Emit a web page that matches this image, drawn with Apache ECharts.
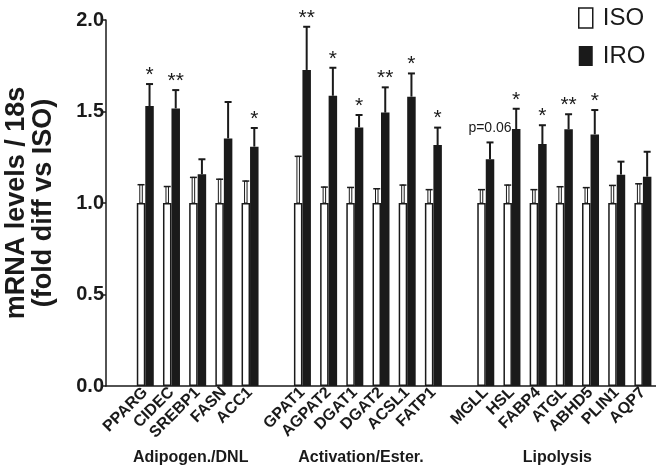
<!DOCTYPE html>
<html><head><meta charset="utf-8">
<script src="https://cdn.jsdelivr.net/npm/echarts@6/dist/echarts.min.js"></script>
<style>html,body{margin:0;padding:0;background:#fff}#c{width:656px;height:470px}</style>
</head><body><div id="c"></div>
<script>
// ---- data ----
const categories = ['', 'PPARG','CIDEC','SREBP1','FASN','ACC1', '', 'GPAT1','AGPAT2','DGAT1','DGAT2','ACSL1','FATP1', '', 'MGLL','HSL','FABP4','ATGL','ABHD5','PLIN1','AQP7'];
const isoMean = [null, 1,1,1,1,1, null, 1,1,1,1,1,1, null, 1,1,1,1,1,1,1];
const isoErr  = [null, 0.10,0.09,0.14,0.13,0.12, null, 0.255,0.087,0.085,0.078,0.098,0.073, null, 0.073,0.098,0.073,0.089,0.084,0.096,0.105];
const iroMean = [null, 1.530,1.517,1.157,1.353,1.308, null, 1.727,1.586,1.413,1.494,1.581,1.317, null, 1.239,1.404,1.322,1.403,1.375,1.155,1.144];
const iroErr  = [null, 0.120,0.100,0.082,0.199,0.102, null, 0.236,0.153,0.068,0.138,0.127,0.095, null, 0.092,0.111,0.103,0.082,0.133,0.071,0.136];
const sigLabels = [null, '*','**','','','*', null, '**','*','*','**','*','*', null, 'p=0.06','*','*','**','*','',''];
const groupNames = ['Adipogen./DNL','Activation/Ester.','Lipolysis'];
const groupStart = [1, 7, 14];
const groupEnd   = [5, 12, 20];
const yTicks = [0, 0.5, 1.0, 1.5, 2.0];

// ---- chart ----
const FONT = '"Liberation Sans", Arial, Helvetica, sans-serif';
const INK = '#1a1a1a';
const BW = 8.5;
const chart = echarts.init(document.getElementById('c'), null, {renderer: 'canvas'});

const errData = categories.map((c, i) => c ? [i, iroMean[i] + iroErr[i]] : null).filter(Boolean);

function renderErr(params, api) {
  const i = api.value(0);
  const cx = api.coord([i, 0])[0];
  const isoX = cx - BW / 2, iroX = cx + BW / 2;
  const isoTop = api.coord([i, isoMean[i]])[1];
  const isoCap = api.coord([i, isoMean[i] + isoErr[i]])[1];
  const iroTop = api.coord([i, iroMean[i]])[1];
  const iroCap = api.coord([i, iroMean[i] + iroErr[i]])[1];
  const children = [
    {type: 'rect', shape: {x: isoX - 1.25, y: isoCap, width: 2.5, height: isoTop - isoCap},
     style: {fill: '#fff', stroke: INK, lineWidth: 1}},
    {type: 'line', shape: {x1: isoX - 3.5, y1: isoCap, x2: isoX + 3.5, y2: isoCap},
     style: {stroke: INK, lineWidth: 1.5}},
    {type: 'line', shape: {x1: iroX, y1: iroTop, x2: iroX, y2: iroCap},
     style: {stroke: INK, lineWidth: 2}},
    {type: 'line', shape: {x1: iroX - 3.5, y1: iroCap, x2: iroX + 3.5, y2: iroCap},
     style: {stroke: INK, lineWidth: 2}}
  ];
  const s = sigLabels[i];
  if (s) {
    const isP = s.indexOf('p') === 0;
    children.push({type: 'text', x: iroX, y: iroCap - (isP ? 14 : 9),
      style: {text: s, fill: INK, font: (isP ? '14px ' : '21px ') + FONT,
              align: 'center', verticalAlign: 'middle'}});
  }
  return {type: 'group', children};
}

chart.setOption({
  animation: false,
  backgroundColor: '#fff',
  grid: {left: 106, right: 0, top: 20, bottom: 84, containLabel: false, outerBoundsMode: 'none'},
  legend: {
    orient: 'vertical', left: 578, top: 6, padding: 0, itemWidth: 14, itemHeight: 20, itemGap: 14,
    textStyle: {fontFamily: FONT, fontSize: 24, color: INK, padding: [0, 0, 0, 5]},
    data: [
      {name: 'ISO', icon: 'rect', itemStyle: {color: '#fff', borderColor: INK, borderWidth: 1.5}},
      {name: 'IRO', icon: 'rect', itemStyle: {color: INK}}
    ]
  },
  xAxis: {
    type: 'category', data: categories,
    axisLine: {lineStyle: {color: INK, width: 1.5}},
    axisTick: {show: false},
    axisLabel: {interval: 0, rotate: 45, margin: 4, fontFamily: FONT, fontWeight: 'bold', fontSize: 16, color: INK}
  },
  yAxis: {
    type: 'value', min: yTicks[0], max: yTicks[yTicks.length - 1], interval: 0.5,
    splitLine: {show: false},
    axisLine: {show: true, lineStyle: {color: INK, width: 1.5}},
    axisTick: {show: true, length: 5, lineStyle: {color: INK, width: 1.5}},
    axisLabel: {margin: 2, fontFamily: FONT, fontWeight: 'bold', fontSize: 20, color: INK,
                formatter: v => v.toFixed(1)},
    name: 'mRNA levels / 18s\n(fold diff vs ISO)',
    nameLocation: 'middle', nameGap: 49, nameRotate: 90,
    nameTextStyle: {fontFamily: FONT, fontWeight: 'bold', fontSize: 27, lineHeight: 27, color: INK}
  },
  series: [
    {name: 'ISO', type: 'bar', data: isoMean, barWidth: BW, barGap: '0%',
     itemStyle: {color: '#fff', borderColor: INK, borderWidth: 1.5}},
    {name: 'IRO', type: 'bar', data: iroMean, barWidth: BW, barGap: '0%',
     itemStyle: {color: INK}},
    {name: 'err', type: 'custom', data: errData, renderItem: renderErr, z: 5,
     encode: {x: 0, y: 1}, silent: true}
  ]
});

const groupGraphics = groupNames.map((g, k) => {
  const x0 = chart.convertToPixel({xAxisIndex: 0}, groupStart[k]);
  const x1 = chart.convertToPixel({xAxisIndex: 0}, groupEnd[k]);
  return {type: 'text', x: (x0 + x1) / 2 - 7, y: 458,
    style: {text: g, fill: INK, font: 'bold 16px ' + FONT, align: 'center', verticalAlign: 'middle'}};
});
chart.setOption({graphic: groupGraphics});
</script></body></html>
